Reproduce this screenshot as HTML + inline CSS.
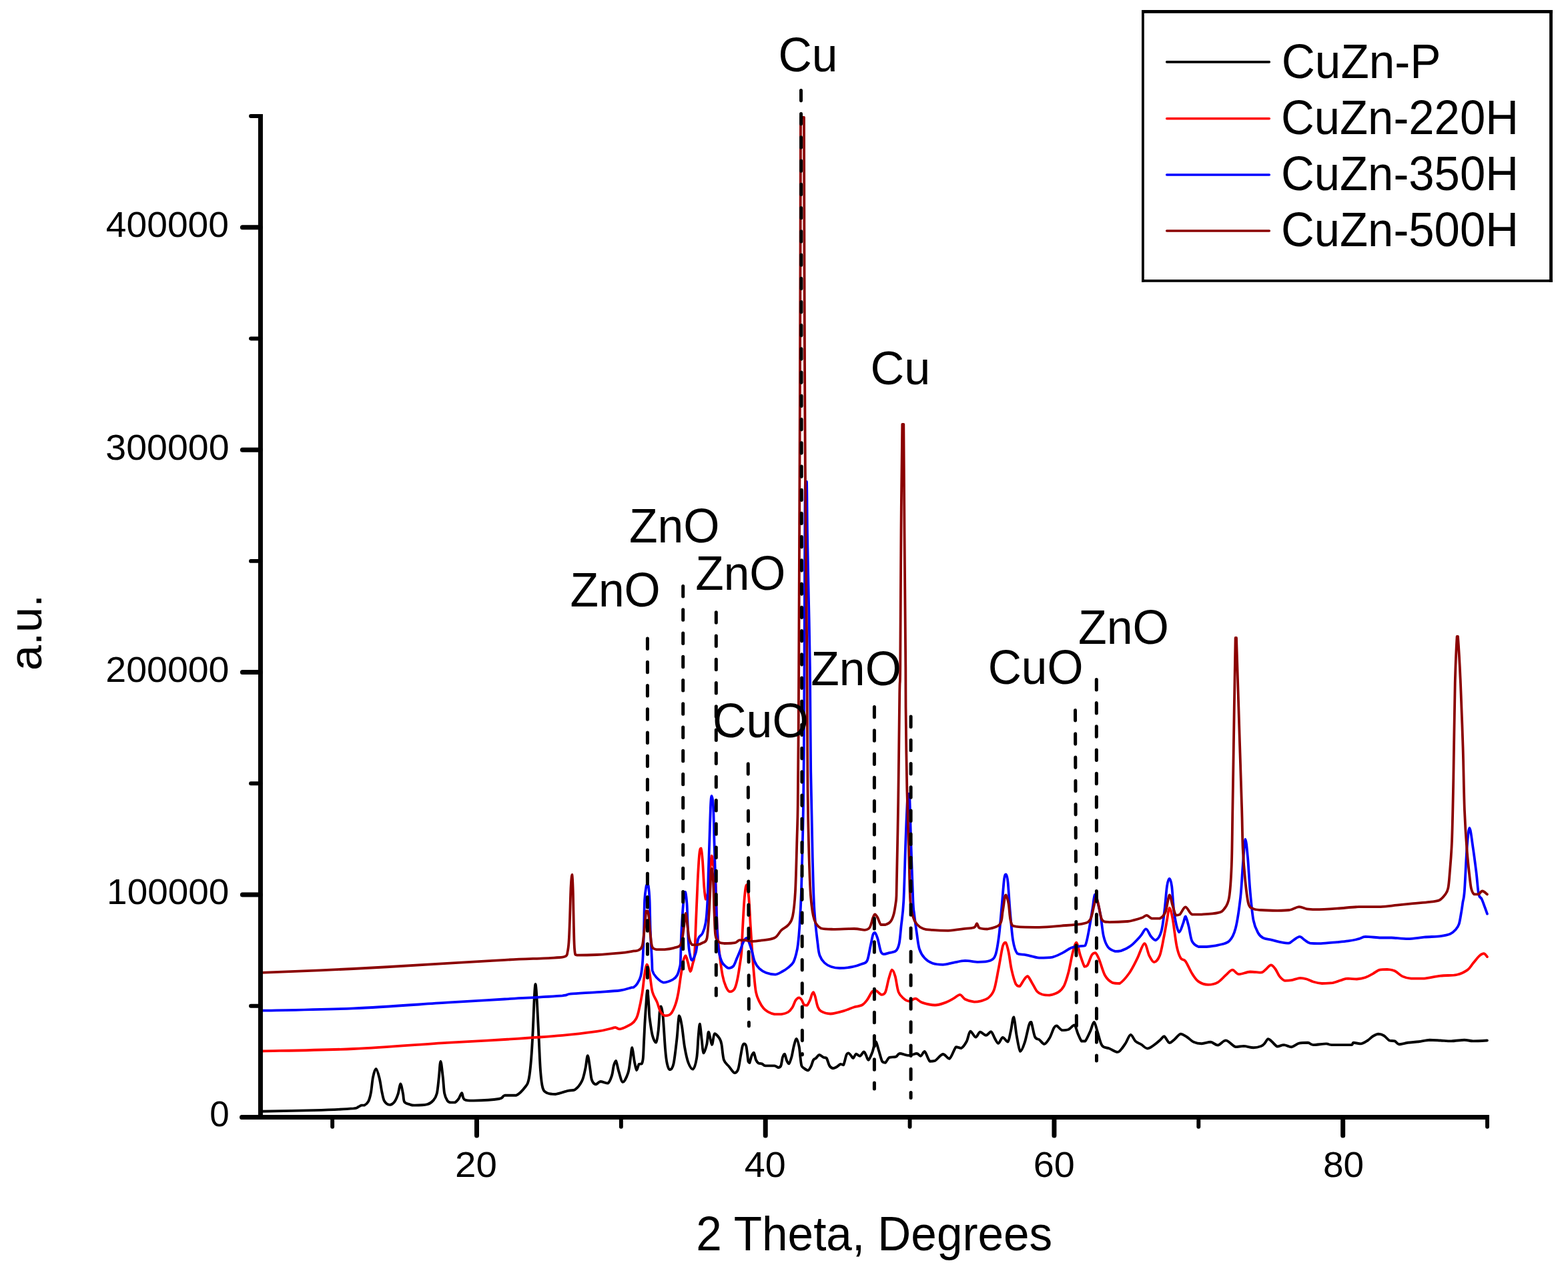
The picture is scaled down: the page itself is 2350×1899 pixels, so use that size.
<!DOCTYPE html>
<html><head><meta charset="utf-8"><title>XRD patterns of CuZn samples</title><style>html,body{margin:0;padding:0;background:#fff;width:2350px;height:1899px;overflow:hidden}</style></head><body>
<svg width="2350" height="1899" viewBox="0 0 2350 1899" style="display:block">
<rect width="100%" height="100%" fill="#fff"/>
<path d="M391.5 1665.8C404.6 1665.5 446.8 1664.8 469.9 1664.1C492.9 1663.4 518.6 1662.3 529.8 1661.4C537.3 1660.5 535.3 1659.7 537.3 1658.9C539.3 1658.1 540.2 1657.0 541.7 1656.6C543.2 1656.6 544.5 1656.6 546.2 1656.6C548.0 1655.6 550.6 1653.8 552.2 1650.6C553.8 1647.4 554.9 1643.2 556.0 1637.2C557.1 1631.2 557.8 1620.6 559.0 1614.7C560.2 1608.8 561.9 1602.0 563.5 1602.0C565.1 1602.2 567.2 1610.3 568.7 1616.2C570.2 1622.1 571.2 1631.5 572.5 1637.2C573.8 1642.9 574.3 1647.5 576.2 1650.6C578.1 1653.7 581.2 1655.8 583.7 1655.9C586.2 1655.9 589.1 1654.0 591.2 1651.4C593.3 1648.8 594.9 1644.7 596.4 1640.2C597.9 1635.7 599.0 1624.7 600.2 1624.4C601.5 1624.4 602.9 1634.2 603.9 1638.7C604.9 1643.2 604.5 1648.7 606.1 1651.4C607.7 1654.1 611.1 1654.2 613.6 1655.1C616.1 1656.0 616.6 1656.6 621.1 1656.6C625.6 1656.6 635.9 1656.3 640.6 1655.1C645.4 1653.8 647.2 1651.8 649.6 1649.1C652.0 1646.4 653.4 1644.4 654.8 1638.7C656.2 1633.0 656.9 1622.7 657.8 1614.7C658.7 1606.7 659.4 1590.7 660.4 1590.7C661.4 1590.7 662.8 1606.7 663.8 1614.7C664.8 1622.7 665.0 1632.8 666.1 1638.7C667.2 1644.6 669.1 1647.6 670.6 1649.9C672.1 1652.2 673.1 1652.0 675.0 1652.4C676.9 1652.4 680.1 1652.4 682.1 1652.2C684.1 1651.3 685.6 1649.3 687.3 1647.0C689.0 1644.7 690.7 1638.3 692.1 1638.3C693.5 1638.4 693.0 1645.9 695.9 1647.8C698.8 1649.6 701.1 1649.6 709.7 1649.6C718.4 1649.5 740.0 1648.3 747.8 1647.0C755.6 1645.7 752.1 1642.7 756.4 1641.8C760.7 1641.8 768.5 1641.8 773.7 1641.8C778.9 1639.6 784.3 1633.0 787.5 1628.8C790.7 1624.6 791.3 1623.6 792.7 1616.7C794.1 1609.8 795.1 1599.5 796.1 1587.4C797.1 1575.3 798.0 1558.6 798.7 1544.2C799.4 1529.8 799.9 1512.5 800.5 1501.0C801.1 1489.5 801.8 1475.0 802.5 1475.0C803.2 1475.0 804.0 1488.0 804.8 1501.0C805.6 1514.0 806.5 1535.5 807.4 1552.8C808.3 1570.1 809.0 1591.6 810.0 1604.6C811.0 1617.6 811.7 1625.0 813.4 1630.6C815.1 1636.2 817.1 1636.7 820.3 1638.3C823.5 1639.9 827.2 1640.0 832.4 1640.0C837.6 1639.4 846.5 1636.0 851.4 1634.9C856.3 1633.8 858.3 1634.9 861.8 1633.2C865.3 1630.8 869.6 1625.5 872.2 1620.2C874.8 1614.9 876.0 1607.5 877.4 1601.2C878.8 1594.9 879.6 1582.2 880.8 1582.2C881.9 1582.2 883.3 1595.2 884.3 1601.2C885.3 1607.2 885.5 1614.5 886.9 1618.5C888.3 1622.5 890.8 1625.0 892.9 1625.4C895.0 1625.4 896.8 1621.3 899.8 1621.0C902.8 1621.0 908.2 1623.6 911.1 1623.6C914.0 1622.0 915.7 1615.9 917.1 1611.6C918.5 1607.3 918.7 1601.3 919.7 1597.7C920.7 1594.1 921.8 1590.0 923.1 1590.0C924.4 1591.5 925.8 1601.1 927.5 1606.4C929.2 1611.7 931.2 1621.6 933.5 1621.9C935.8 1621.9 939.4 1613.8 941.3 1608.1C943.2 1602.3 943.8 1593.7 944.8 1587.4C945.8 1581.1 946.4 1570.1 947.4 1570.1C948.4 1570.7 949.7 1585.1 950.8 1590.8C951.9 1596.5 953.0 1603.3 954.1 1604.0C955.2 1604.0 956.3 1596.6 957.6 1595.0C958.9 1594.3 960.8 1595.0 961.8 1594.3C962.8 1592.8 963.2 1592.0 963.8 1586.0C964.4 1580.0 964.7 1567.5 965.2 1558.3C965.7 1549.1 966.1 1538.6 966.6 1530.6C967.1 1522.5 967.4 1517.6 968.0 1510.0C968.6 1502.4 969.4 1485.0 970.2 1485.0C971.0 1485.0 972.1 1503.3 972.6 1510.0C973.1 1516.7 972.6 1518.1 973.5 1525.0C974.4 1531.9 976.1 1545.2 977.7 1551.4C979.3 1557.7 981.7 1562.5 983.2 1562.5C984.7 1561.3 985.8 1552.1 986.7 1544.5C987.6 1536.9 988.1 1522.8 988.7 1516.8C989.4 1510.8 989.8 1508.5 990.6 1508.5C991.4 1509.7 992.5 1513.1 993.6 1523.7C994.7 1534.3 996.0 1560.3 997.0 1572.1C998.0 1583.9 998.6 1589.1 999.8 1594.3C1000.9 1599.5 1002.3 1603.3 1003.9 1603.3C1005.5 1603.3 1007.8 1601.8 1009.5 1594.3C1011.2 1586.8 1012.9 1570.3 1014.3 1558.3C1015.7 1546.3 1016.5 1525.9 1017.8 1522.4C1019.1 1522.4 1020.5 1529.8 1021.9 1537.6C1023.3 1545.4 1024.5 1560.2 1026.1 1569.4C1027.7 1578.6 1029.5 1587.4 1031.6 1592.9C1033.7 1598.4 1036.4 1602.6 1038.5 1602.6C1040.6 1601.4 1042.7 1594.5 1044.1 1586.0C1045.5 1577.5 1046.0 1559.9 1046.8 1551.4C1047.6 1542.9 1048.1 1534.8 1048.9 1534.8C1049.7 1535.9 1050.8 1551.0 1051.7 1558.3C1052.6 1565.6 1053.1 1577.2 1054.4 1578.4C1055.7 1578.4 1058.0 1570.5 1059.3 1565.2C1060.6 1559.9 1060.7 1546.6 1062.0 1546.6C1063.3 1546.7 1065.4 1565.5 1066.9 1565.9C1068.4 1565.9 1069.0 1550.8 1071.0 1549.3C1073.0 1549.3 1076.9 1554.2 1078.6 1556.9C1080.3 1559.6 1080.4 1559.9 1081.4 1565.2C1082.5 1570.5 1083.1 1583.2 1084.9 1588.7C1086.8 1594.2 1089.8 1595.2 1092.5 1598.4C1095.2 1601.6 1098.5 1607.4 1100.8 1608.1C1103.1 1608.1 1104.8 1606.8 1106.3 1602.5C1107.8 1598.2 1109.0 1587.9 1110.1 1582.2C1111.2 1576.5 1111.8 1571.2 1112.7 1568.3C1113.6 1565.3 1114.2 1564.5 1115.2 1564.5C1116.2 1564.5 1117.4 1564.5 1118.4 1568.3C1119.5 1572.7 1120.7 1587.0 1121.5 1591.1C1122.3 1593.0 1122.6 1593.0 1123.4 1593.0C1124.2 1591.5 1125.5 1584.7 1126.6 1582.2C1127.7 1579.7 1128.7 1577.8 1129.8 1577.8C1130.9 1578.9 1131.8 1586.0 1133.0 1588.6C1134.2 1591.2 1135.3 1592.6 1136.8 1593.6C1138.3 1594.3 1140.1 1593.7 1141.8 1594.3C1143.5 1594.9 1143.7 1596.9 1146.9 1597.4C1150.1 1597.4 1157.5 1597.4 1160.8 1597.4C1164.1 1597.8 1164.9 1600.0 1166.5 1600.0C1168.1 1600.0 1169.2 1599.9 1170.3 1597.4C1171.4 1594.9 1172.0 1587.8 1172.9 1584.8C1173.9 1581.8 1175.0 1579.7 1176.0 1579.7C1177.0 1580.5 1178.1 1587.4 1179.2 1589.8C1180.3 1592.2 1181.2 1594.3 1182.4 1594.3C1183.6 1593.5 1184.9 1589.3 1186.2 1584.8C1187.5 1580.2 1188.7 1571.7 1190.0 1567.0C1191.3 1562.3 1192.5 1556.9 1193.8 1556.9C1195.1 1557.1 1196.6 1563.7 1197.6 1568.3C1198.5 1572.9 1198.9 1579.9 1199.5 1584.8C1200.1 1589.7 1200.5 1594.7 1201.4 1597.4C1202.4 1600.1 1203.6 1600.0 1205.2 1601.2C1206.8 1602.4 1209.2 1604.4 1210.9 1604.4C1212.6 1604.0 1213.9 1601.3 1215.3 1598.7C1216.7 1596.1 1217.8 1590.7 1219.1 1588.6C1220.4 1586.5 1221.4 1587.3 1222.9 1586.0C1224.4 1584.7 1226.1 1581.2 1228.0 1581.0C1229.9 1581.0 1232.5 1584.0 1234.3 1584.8C1236.1 1585.6 1237.3 1584.8 1238.8 1586.0C1240.3 1588.1 1241.6 1594.9 1243.2 1597.4C1244.8 1599.9 1246.4 1601.0 1248.3 1601.2C1250.2 1601.2 1252.7 1599.8 1254.6 1598.7C1256.5 1597.7 1258.1 1595.3 1259.7 1594.9C1261.3 1594.9 1262.6 1596.2 1264.1 1596.2C1265.6 1593.9 1267.3 1584.0 1268.6 1581.0C1269.9 1578.4 1270.5 1578.4 1271.7 1578.4C1272.9 1578.6 1274.3 1580.9 1275.5 1582.2C1276.7 1583.5 1277.4 1586.0 1278.7 1586.0C1280.0 1585.6 1281.4 1580.2 1283.1 1579.7C1284.8 1579.7 1286.9 1582.9 1288.8 1582.9C1290.7 1582.4 1293.1 1576.8 1294.6 1576.5C1296.1 1576.5 1296.5 1579.0 1297.7 1581.0C1298.9 1583.0 1299.9 1588.8 1301.5 1588.8C1303.1 1588.1 1305.6 1581.6 1307.4 1577.0C1309.2 1572.4 1310.7 1561.6 1312.3 1561.3C1313.9 1561.3 1315.6 1570.2 1317.2 1575.1C1318.8 1580.0 1320.5 1587.8 1322.1 1590.7C1323.7 1592.7 1325.2 1592.7 1327.0 1592.7C1328.8 1591.7 1330.3 1586.4 1332.9 1584.9C1335.5 1583.9 1340.1 1584.9 1342.7 1583.9C1345.3 1582.9 1345.3 1579.3 1348.6 1579.0C1351.9 1579.0 1358.1 1581.9 1362.3 1581.9C1366.5 1581.9 1371.1 1579.0 1374.0 1579.0C1376.9 1579.2 1377.9 1582.9 1379.9 1582.9C1381.9 1582.4 1383.5 1576.0 1385.8 1576.0C1388.1 1577.3 1391.0 1588.4 1393.6 1590.7C1396.2 1590.7 1398.1 1590.7 1401.4 1589.8C1404.7 1588.0 1409.6 1580.5 1413.2 1580.0C1416.8 1580.0 1419.7 1586.8 1423.0 1586.8C1426.3 1585.0 1429.9 1571.8 1432.8 1569.2C1435.7 1569.2 1438.0 1571.1 1440.6 1571.1C1443.2 1569.8 1446.2 1565.5 1448.5 1561.3C1450.8 1557.1 1452.0 1546.8 1454.3 1545.7C1456.6 1545.7 1459.8 1554.3 1462.2 1554.5C1464.7 1554.5 1466.4 1547.2 1469.0 1546.7C1471.6 1546.7 1475.0 1551.8 1477.7 1551.8C1480.4 1551.7 1483.1 1546.3 1485.3 1546.3C1487.5 1547.0 1489.0 1553.2 1490.8 1556.1C1492.6 1559.0 1494.3 1563.8 1496.3 1563.8C1498.3 1563.6 1500.4 1555.4 1502.8 1555.0C1505.2 1555.0 1508.5 1561.6 1510.5 1561.6C1512.5 1560.0 1513.4 1551.4 1514.9 1545.2C1516.4 1539.0 1517.8 1524.4 1519.3 1524.4C1520.8 1525.5 1522.0 1543.2 1523.6 1551.8C1525.2 1560.4 1527.1 1574.0 1529.1 1575.8C1531.1 1575.8 1533.5 1569.3 1535.7 1562.7C1537.9 1556.1 1540.6 1541.5 1542.2 1536.4C1543.8 1532.0 1544.0 1532.0 1545.5 1532.0C1547.0 1534.9 1549.0 1549.5 1551.0 1553.9C1553.0 1558.3 1555.2 1556.5 1557.6 1558.3C1560.0 1560.1 1562.7 1564.9 1565.2 1564.9C1567.8 1564.5 1570.5 1560.1 1572.9 1556.1C1575.3 1552.1 1577.7 1543.9 1579.5 1540.8C1581.3 1537.7 1581.8 1537.5 1583.8 1537.5C1585.8 1538.0 1588.6 1543.2 1591.5 1544.1C1594.4 1544.1 1598.2 1544.1 1601.3 1543.0C1604.4 1541.7 1607.7 1536.4 1610.1 1536.4C1612.5 1537.5 1613.8 1545.6 1615.6 1549.6C1617.4 1553.6 1619.2 1558.7 1621.0 1560.5C1622.8 1560.5 1624.3 1560.5 1626.5 1560.5C1628.7 1558.0 1632.0 1550.0 1634.2 1545.2C1636.4 1540.5 1637.9 1532.0 1639.7 1532.0C1641.5 1532.4 1643.1 1541.6 1645.1 1547.4C1647.1 1553.2 1648.8 1563.1 1651.7 1567.1C1654.6 1571.1 1658.8 1569.9 1662.6 1571.5C1666.4 1573.1 1671.6 1576.8 1674.7 1576.9C1677.8 1576.9 1678.9 1574.3 1681.0 1572.0C1683.1 1569.7 1685.0 1566.5 1687.3 1563.0C1689.5 1559.5 1692.1 1551.3 1694.5 1550.9C1696.9 1550.9 1699.2 1558.2 1701.8 1560.6C1704.4 1563.0 1707.3 1563.6 1710.3 1565.4C1713.3 1567.2 1716.5 1571.5 1719.9 1571.5C1723.3 1571.5 1727.6 1567.6 1730.8 1565.4C1734.0 1563.2 1736.9 1560.2 1739.3 1558.2C1741.7 1556.2 1742.7 1553.3 1744.9 1553.3C1747.1 1554.1 1750.1 1562.2 1752.6 1563.0C1755.1 1563.0 1757.1 1560.4 1759.9 1558.2C1762.7 1556.0 1766.3 1550.3 1769.5 1549.7C1772.7 1549.7 1776.0 1552.5 1779.2 1554.5C1782.4 1556.5 1785.3 1560.2 1788.9 1561.8C1792.5 1563.4 1796.8 1564.2 1801.0 1564.2C1805.2 1564.2 1810.3 1561.8 1814.3 1561.8C1818.3 1562.2 1821.4 1566.6 1825.2 1566.6C1829.0 1566.2 1832.9 1559.4 1837.3 1559.4C1841.7 1559.8 1847.4 1567.7 1851.8 1569.1C1856.2 1569.1 1859.5 1567.9 1863.9 1567.9C1868.4 1568.1 1874.2 1570.3 1878.5 1570.3C1882.8 1570.3 1887.3 1569.0 1890.0 1568.0C1892.7 1567.0 1893.1 1566.2 1894.9 1564.4C1896.7 1562.6 1898.7 1557.6 1900.6 1557.1C1902.5 1557.1 1904.0 1559.3 1906.3 1561.2C1908.6 1563.1 1911.4 1567.7 1914.4 1568.5C1917.4 1568.5 1920.7 1566.1 1924.2 1566.1C1927.7 1566.2 1931.8 1569.3 1935.6 1569.3C1939.4 1568.9 1942.9 1564.7 1947.0 1563.6C1951.1 1562.8 1956.6 1562.8 1960.1 1562.8C1963.6 1563.2 1963.6 1565.8 1968.2 1566.1C1972.8 1566.1 1983.2 1564.4 1987.8 1564.4C1992.4 1564.4 1989.7 1565.8 1995.9 1566.1C2002.1 1566.1 2019.8 1566.1 2025.2 1566.1C2028.5 1565.5 2026.0 1563.1 2028.5 1562.8C2031.0 1562.8 2036.4 1564.4 2039.9 1564.4C2043.4 1563.9 2046.7 1561.4 2049.7 1559.5C2052.7 1557.6 2055.1 1554.6 2057.8 1553.0C2060.5 1551.4 2063.3 1549.9 2066.0 1549.8C2068.7 1549.8 2071.4 1550.6 2074.1 1552.2C2076.8 1553.8 2079.6 1558.1 2082.3 1559.5C2085.0 1560.4 2088.0 1559.5 2090.4 1560.4C2092.8 1561.4 2093.6 1564.8 2096.9 1565.2C2100.2 1565.2 2105.1 1563.5 2110.0 1562.8C2114.9 1562.1 2120.9 1561.9 2126.3 1561.2C2131.7 1560.5 2137.2 1559.0 2142.6 1558.7C2148.0 1558.7 2153.5 1559.2 2158.9 1559.5C2164.3 1559.8 2169.2 1560.4 2175.2 1560.4C2181.2 1560.3 2189.3 1558.7 2194.7 1558.7C2200.1 1558.7 2202.0 1560.3 2207.7 1560.4C2213.4 1560.4 2225.4 1559.7 2228.9 1559.5" fill="none" stroke="#000" stroke-width="3.9" stroke-linejoin="round" stroke-linecap="round"/>
<path d="M391.5 1575.5C414.6 1574.9 483.4 1574.1 529.8 1572.0C576.2 1569.9 632.2 1565.1 670.0 1562.8C707.8 1560.5 727.6 1559.8 756.4 1558.0C785.2 1556.2 819.8 1553.9 842.8 1551.9C865.8 1549.9 882.5 1547.6 894.6 1545.9C906.7 1544.2 910.8 1542.6 915.4 1541.6C920.0 1540.6 920.0 1539.8 922.3 1539.8C924.6 1539.9 925.2 1542.4 929.2 1542.4C933.2 1541.6 942.5 1537.3 946.5 1534.7C950.5 1532.1 951.7 1529.9 953.4 1526.9C955.1 1523.9 955.4 1523.1 956.9 1516.8C958.4 1510.5 960.9 1498.4 962.4 1489.2C963.9 1480.0 964.7 1468.8 965.9 1461.5C967.1 1454.2 968.1 1446.1 969.4 1445.6C970.7 1445.6 972.1 1451.9 973.5 1458.7C974.9 1465.5 975.9 1479.2 977.7 1486.4C979.6 1493.6 982.5 1496.5 984.6 1501.6C986.7 1506.7 988.0 1513.3 990.1 1516.8C992.2 1520.3 994.5 1521.9 997.0 1522.4C999.5 1522.4 1002.8 1522.4 1005.3 1519.6C1007.8 1516.8 1010.4 1510.9 1012.2 1505.8C1014.1 1500.7 1015.0 1496.6 1016.4 1489.2C1017.8 1481.8 1019.2 1469.6 1020.5 1461.5C1021.8 1453.4 1022.8 1445.5 1024.0 1440.7C1025.2 1435.9 1026.3 1432.4 1027.5 1432.4C1028.7 1432.6 1029.7 1438.2 1030.9 1442.1C1032.1 1446.0 1033.3 1455.8 1034.6 1456.0C1035.9 1456.0 1037.4 1447.8 1038.5 1443.5C1039.6 1439.2 1040.2 1441.0 1041.0 1430.0C1041.8 1419.0 1042.4 1395.8 1043.2 1377.7C1044.0 1359.6 1044.8 1337.4 1045.6 1321.3C1046.4 1305.2 1047.3 1289.3 1048.1 1281.0C1048.9 1272.7 1049.7 1271.3 1050.5 1271.3C1051.3 1272.6 1052.1 1279.3 1052.9 1289.0C1053.7 1298.7 1054.5 1319.6 1055.3 1329.4C1056.1 1339.2 1056.8 1346.6 1057.7 1347.9C1058.7 1347.9 1059.9 1344.5 1061.0 1337.4C1062.1 1330.3 1063.3 1314.3 1064.2 1305.2C1065.1 1296.1 1065.8 1283.9 1066.6 1282.6C1067.4 1282.6 1068.2 1293.3 1069.0 1297.1C1069.8 1300.9 1070.8 1298.5 1071.5 1305.2C1072.2 1311.9 1072.6 1324.0 1073.1 1337.4C1073.6 1350.8 1074.0 1372.3 1074.7 1385.8C1075.4 1399.2 1075.8 1405.5 1077.1 1418.1C1078.4 1430.7 1080.9 1451.3 1082.8 1461.5C1084.7 1471.7 1086.5 1475.3 1088.3 1479.5C1090.1 1483.7 1091.7 1486.0 1093.8 1486.4C1095.9 1486.4 1098.9 1485.2 1100.8 1482.2C1102.7 1479.2 1103.8 1474.4 1105.1 1468.2C1106.4 1462.0 1107.9 1452.3 1108.9 1445.3C1110.0 1438.3 1110.8 1433.8 1111.4 1426.3C1112.0 1418.8 1111.9 1413.5 1112.6 1400.0C1113.3 1386.5 1114.7 1357.8 1115.8 1345.5C1116.9 1333.2 1117.9 1326.1 1119.0 1326.1C1120.1 1326.1 1121.3 1335.5 1122.3 1345.5C1123.2 1355.5 1123.8 1371.0 1124.7 1385.8C1125.6 1400.6 1127.1 1422.2 1127.9 1434.2C1128.8 1446.2 1129.0 1449.2 1129.8 1458.0C1130.6 1466.8 1131.6 1480.0 1133.0 1487.2C1134.4 1494.4 1136.1 1497.1 1138.0 1501.1C1139.9 1505.1 1142.3 1508.8 1144.4 1511.3C1146.5 1513.8 1148.0 1514.8 1150.7 1516.3C1153.4 1517.8 1157.4 1519.5 1160.8 1520.1C1164.2 1520.1 1167.6 1520.1 1171.0 1520.1C1174.4 1519.6 1178.3 1518.7 1181.1 1517.0C1183.8 1515.3 1185.6 1513.0 1187.5 1510.0C1189.4 1507.0 1190.8 1501.6 1192.5 1499.2C1194.2 1496.8 1196.1 1495.5 1197.6 1495.4C1199.1 1495.4 1200.1 1496.8 1201.4 1498.6C1202.7 1500.4 1203.8 1504.8 1205.2 1506.2C1206.6 1506.8 1208.1 1506.8 1209.6 1506.8C1211.1 1505.5 1212.9 1501.2 1214.1 1498.6C1215.3 1496.0 1215.8 1492.9 1216.6 1491.0C1217.4 1489.1 1218.2 1487.2 1219.1 1487.2C1219.9 1487.6 1220.6 1489.9 1221.7 1493.5C1222.8 1497.1 1224.0 1505.0 1225.5 1508.7C1227.0 1512.4 1227.3 1513.9 1230.5 1515.7C1233.7 1517.5 1238.8 1519.5 1244.5 1519.5C1250.2 1519.4 1258.9 1516.8 1264.8 1515.1C1270.7 1513.4 1275.5 1510.9 1280.0 1509.5C1284.5 1508.1 1288.5 1508.3 1291.8 1506.5C1295.1 1504.7 1297.0 1502.1 1299.6 1498.7C1302.2 1495.3 1305.1 1488.2 1307.4 1485.9C1309.7 1485.0 1311.0 1485.0 1313.3 1485.0C1315.6 1485.8 1318.8 1490.5 1321.1 1490.8C1323.4 1490.8 1325.2 1490.8 1327.0 1486.9C1328.8 1483.0 1330.3 1472.8 1331.9 1467.3C1333.5 1461.8 1335.2 1454.2 1336.8 1453.6C1338.4 1453.6 1340.1 1457.9 1341.7 1463.4C1343.3 1469.0 1344.5 1481.4 1346.6 1486.9C1348.7 1492.5 1351.8 1494.4 1354.4 1496.7C1357.0 1499.0 1359.3 1500.6 1362.3 1500.6C1365.2 1500.6 1368.8 1496.7 1372.1 1496.7C1375.4 1497.0 1377.0 1501.0 1381.9 1502.6C1386.8 1504.2 1395.5 1506.5 1401.4 1506.5C1407.3 1506.5 1412.5 1504.2 1417.1 1502.6C1421.7 1501.0 1425.3 1498.7 1428.9 1496.7C1432.5 1494.7 1435.8 1490.8 1438.7 1490.8C1441.6 1491.0 1442.9 1495.9 1446.5 1497.7C1450.1 1499.5 1456.3 1501.2 1460.2 1501.6C1464.1 1501.6 1466.5 1501.2 1470.0 1500.3C1473.5 1499.3 1477.6 1498.6 1480.9 1495.9C1484.2 1493.2 1487.1 1491.0 1489.7 1483.9C1492.3 1476.8 1494.1 1464.2 1496.3 1453.2C1498.5 1442.2 1501.0 1425.0 1502.8 1418.2C1504.6 1412.7 1505.7 1412.7 1507.2 1412.7C1508.7 1414.2 1510.1 1420.2 1511.6 1427.0C1513.1 1433.8 1514.2 1445.2 1516.0 1453.2C1517.8 1461.2 1520.5 1470.9 1522.5 1475.1C1524.5 1478.4 1526.0 1478.4 1528.0 1478.4C1530.0 1477.3 1532.6 1471.1 1534.6 1468.6C1536.6 1466.0 1538.1 1463.1 1540.1 1463.1C1542.1 1463.8 1544.2 1469.1 1546.6 1472.9C1549.0 1476.7 1551.8 1483.2 1554.3 1486.1C1556.8 1489.0 1558.8 1489.6 1561.9 1490.5C1565.0 1491.4 1568.9 1491.6 1572.9 1491.6C1576.9 1491.0 1582.3 1489.6 1586.0 1487.2C1589.7 1484.8 1592.2 1482.2 1594.8 1477.3C1597.3 1472.4 1599.1 1466.0 1601.3 1457.6C1603.5 1449.2 1605.9 1434.5 1607.9 1427.0C1609.9 1419.5 1611.6 1412.7 1613.4 1412.7C1615.2 1413.4 1616.9 1425.3 1618.9 1431.3C1620.9 1437.3 1623.6 1446.3 1625.4 1448.9C1627.2 1448.9 1628.0 1448.9 1629.8 1446.7C1631.6 1443.8 1634.4 1434.4 1636.4 1431.3C1638.4 1428.2 1640.0 1428.1 1641.8 1428.1C1643.6 1429.2 1644.9 1432.2 1647.3 1437.9C1649.7 1443.6 1652.8 1456.2 1656.1 1462.0C1659.4 1467.8 1663.3 1470.9 1667.0 1472.9C1670.7 1474.0 1673.8 1474.0 1678.0 1474.0C1682.2 1471.7 1687.7 1465.1 1692.1 1459.0C1696.5 1452.9 1700.4 1444.7 1704.2 1437.2C1708.0 1429.7 1712.1 1415.0 1715.1 1414.2C1718.1 1414.2 1720.0 1427.7 1722.4 1432.3C1724.8 1436.9 1727.0 1442.0 1729.6 1442.0C1732.2 1442.0 1735.7 1438.3 1738.1 1432.3C1740.5 1426.2 1742.3 1414.6 1744.1 1405.7C1745.9 1396.8 1747.6 1386.6 1749.0 1379.1C1750.4 1371.6 1751.2 1361.3 1752.6 1360.9C1754.0 1360.9 1755.6 1367.2 1757.4 1376.7C1759.2 1386.2 1761.5 1407.9 1763.5 1417.8C1765.5 1427.7 1767.3 1432.2 1769.5 1436.0C1771.7 1439.8 1774.0 1437.0 1776.8 1440.8C1779.6 1444.6 1783.3 1454.0 1786.5 1459.0C1789.7 1464.0 1792.2 1468.3 1796.2 1471.1C1800.2 1473.9 1805.9 1475.7 1810.7 1475.9C1815.5 1475.9 1820.8 1474.7 1825.2 1472.3C1829.6 1469.9 1833.7 1464.5 1837.3 1461.4C1840.9 1458.3 1843.8 1453.8 1847.0 1453.6C1850.2 1453.6 1852.3 1459.7 1856.7 1460.2C1861.1 1460.2 1868.0 1456.9 1873.6 1456.5C1879.1 1456.5 1886.2 1457.7 1890.0 1457.7C1893.8 1457.2 1894.0 1455.5 1896.5 1453.6C1899.0 1451.7 1902.2 1446.6 1904.7 1446.3C1907.2 1446.3 1909.0 1449.2 1911.2 1452.0C1913.4 1454.8 1915.3 1460.4 1917.7 1463.4C1920.1 1466.4 1922.8 1469.0 1925.8 1469.9C1928.8 1469.9 1931.8 1469.8 1935.6 1469.1C1939.4 1468.4 1944.9 1466.1 1948.7 1465.8C1952.5 1465.8 1955.2 1466.5 1958.4 1467.5C1961.7 1468.5 1964.4 1470.4 1968.2 1471.5C1972.0 1472.6 1976.4 1473.7 1981.3 1474.0C1986.2 1474.0 1992.3 1474.0 1997.5 1473.2C2002.7 1472.2 2008.4 1469.4 2012.2 1468.3C2016.0 1467.2 2016.9 1466.8 2020.4 1466.7C2023.9 1466.7 2029.1 1467.5 2033.4 1467.5C2037.7 1467.2 2042.3 1466.4 2046.4 1465.0C2050.5 1463.6 2054.3 1461.2 2057.8 1459.3C2061.3 1457.4 2064.1 1454.7 2067.6 1453.6C2071.1 1452.8 2075.2 1452.8 2079.0 1452.8C2082.8 1453.1 2086.6 1453.4 2090.4 1455.2C2094.2 1457.0 2097.7 1461.5 2101.8 1463.4C2105.9 1465.3 2109.5 1466.2 2114.9 1466.7C2120.3 1466.7 2127.1 1466.7 2134.4 1466.7C2141.7 1466.0 2150.8 1463.5 2158.9 1462.6C2167.1 1461.6 2176.5 1462.5 2183.3 1461.0C2190.1 1459.5 2195.5 1456.5 2199.6 1453.6C2203.7 1450.7 2204.7 1447.3 2207.7 1443.8C2210.7 1440.3 2214.8 1434.8 2217.5 1432.4C2220.2 1430.0 2222.1 1429.2 2224.0 1429.2C2225.9 1429.5 2228.1 1433.3 2228.9 1434.1" fill="none" stroke="#f00" stroke-width="3.8" stroke-linejoin="round" stroke-linecap="round"/>
<path d="M391.5 1514.7C414.6 1514.2 483.4 1513.4 529.8 1511.4C576.2 1509.4 632.2 1505.0 670.0 1502.7C707.8 1500.4 727.6 1499.2 756.4 1497.5C785.2 1495.8 826.4 1493.6 842.8 1492.3C854.9 1491.0 846.3 1490.6 854.9 1489.7C863.5 1488.8 882.2 1488.0 894.6 1487.1C907.0 1486.2 920.6 1485.7 929.2 1484.5C937.9 1483.3 943.0 1481.0 946.5 1480.2C950.0 1479.5 948.6 1480.2 950.0 1479.5C951.4 1478.5 953.4 1477.0 955.1 1474.2C956.8 1471.4 958.9 1468.6 960.3 1462.9C961.6 1457.2 962.4 1451.2 963.2 1440.0C964.0 1428.8 964.5 1410.6 965.0 1395.5C965.5 1380.4 965.5 1360.7 966.1 1349.4C966.7 1338.2 967.9 1332.0 968.6 1328.0C969.3 1325.5 969.7 1325.5 970.2 1325.5C970.7 1325.5 971.2 1325.5 971.8 1328.0C972.4 1332.0 973.1 1338.2 973.6 1349.4C974.1 1360.7 974.2 1380.4 974.8 1395.5C975.4 1410.6 976.6 1430.2 977.1 1440.0C977.6 1449.8 977.1 1450.5 977.7 1454.6C978.7 1458.6 980.4 1461.3 983.2 1464.3C986.0 1467.3 990.1 1471.9 994.3 1472.6C998.4 1472.6 1004.6 1470.2 1008.1 1468.4C1011.6 1466.6 1013.1 1465.0 1015.0 1461.5C1016.9 1458.0 1018.4 1451.3 1019.2 1447.7C1019.9 1444.1 1019.5 1447.7 1019.9 1440.0C1020.3 1431.3 1020.6 1410.5 1021.4 1395.5C1022.2 1380.5 1023.5 1359.8 1024.5 1350.0C1025.5 1340.2 1026.4 1337.0 1027.2 1337.0C1028.0 1337.9 1028.9 1347.4 1029.5 1355.2C1030.1 1363.0 1030.2 1374.3 1030.6 1383.9C1031.0 1393.5 1031.3 1405.4 1031.8 1412.7C1032.3 1420.0 1032.6 1423.5 1033.5 1428.0C1034.4 1432.5 1035.6 1439.4 1037.1 1439.4C1038.6 1439.4 1041.1 1433.7 1042.7 1428.3C1044.3 1422.9 1044.8 1411.7 1046.5 1406.8C1048.2 1401.9 1051.0 1402.7 1052.9 1398.7C1054.8 1394.7 1056.5 1390.1 1057.7 1382.6C1058.9 1375.1 1059.5 1366.4 1060.2 1353.5C1060.9 1340.6 1061.3 1321.3 1061.8 1305.2C1062.3 1289.1 1062.9 1272.9 1063.4 1256.8C1063.9 1240.7 1064.5 1219.0 1065.0 1208.4C1065.5 1197.8 1065.9 1193.0 1066.6 1193.0C1067.3 1193.0 1068.3 1196.4 1069.0 1208.4C1069.7 1220.4 1070.0 1246.0 1070.6 1264.8C1071.1 1283.6 1071.8 1303.8 1072.3 1321.3C1072.8 1338.8 1073.2 1353.6 1073.9 1369.7C1074.6 1385.8 1075.0 1406.3 1076.3 1418.1C1077.5 1429.9 1079.4 1435.5 1081.4 1440.7C1083.4 1445.9 1086.5 1447.3 1088.3 1449.0C1090.1 1450.7 1090.7 1451.1 1092.5 1451.1C1094.3 1450.9 1097.4 1450.2 1099.4 1447.7C1101.4 1445.2 1102.8 1439.9 1104.5 1436.0C1106.2 1432.1 1107.8 1428.6 1109.4 1424.5C1111.0 1420.4 1112.6 1414.7 1114.2 1411.6C1115.8 1408.5 1117.7 1406.0 1119.0 1406.0C1120.3 1406.0 1121.0 1408.2 1122.3 1411.6C1123.6 1414.9 1125.6 1421.2 1127.1 1426.1C1128.5 1431.0 1129.2 1436.7 1131.0 1441.0C1132.8 1445.3 1135.1 1448.9 1138.0 1451.7C1140.9 1454.5 1144.2 1456.5 1148.2 1458.0C1152.2 1459.5 1157.9 1460.6 1162.1 1460.6C1166.3 1460.2 1170.3 1457.2 1173.5 1455.5C1176.7 1453.8 1178.6 1452.5 1181.1 1450.4C1183.6 1448.3 1186.7 1446.2 1188.7 1442.8C1190.7 1439.4 1192.0 1434.6 1193.2 1430.0C1194.4 1425.4 1195.2 1421.8 1196.0 1415.0C1196.8 1408.2 1197.5 1401.9 1198.3 1388.9C1199.1 1375.9 1200.0 1362.9 1200.9 1337.0C1201.8 1311.1 1202.8 1267.9 1203.5 1233.3C1204.2 1198.7 1204.5 1168.5 1204.8 1129.6C1205.1 1090.7 1205.2 1054.9 1205.5 1000.0C1205.8 945.1 1206.0 846.3 1206.3 800.0C1206.5 753.7 1206.5 735.0 1207.0 722.0C1207.5 722.0 1208.5 722.0 1209.0 722.0C1209.5 735.0 1209.5 770.3 1210.0 800.0C1210.5 829.7 1211.3 866.7 1212.0 900.0C1212.7 933.3 1213.4 957.4 1213.9 1000.0C1214.4 1042.6 1214.6 1108.1 1215.2 1155.6C1215.8 1203.1 1216.9 1250.6 1217.8 1285.2C1218.7 1319.8 1219.1 1341.4 1220.4 1363.0C1221.7 1384.6 1224.2 1403.3 1225.6 1414.8C1226.9 1426.3 1226.8 1427.3 1228.5 1432.0C1230.2 1436.7 1232.7 1440.2 1235.6 1443.0C1238.5 1445.8 1242.0 1447.7 1245.8 1449.0C1249.6 1450.3 1253.1 1451.0 1258.4 1451.0C1263.7 1451.0 1271.8 1450.2 1277.4 1449.2C1283.0 1448.2 1288.1 1446.3 1291.8 1444.8C1295.5 1443.2 1297.5 1444.3 1299.6 1439.9C1301.7 1435.5 1303.0 1424.9 1304.5 1418.4C1306.0 1411.9 1307.3 1404.1 1308.4 1400.7C1309.5 1397.8 1310.2 1397.8 1311.3 1397.8C1312.4 1398.8 1313.8 1401.9 1315.3 1406.6C1316.8 1411.3 1318.6 1422.3 1320.2 1426.2C1321.8 1430.1 1323.0 1429.8 1325.1 1430.1C1327.2 1430.1 1330.0 1428.9 1332.9 1428.1C1335.8 1427.3 1340.2 1427.5 1342.7 1425.2C1345.2 1422.9 1346.3 1420.4 1347.6 1414.4C1348.9 1408.4 1349.4 1399.7 1350.5 1389.0C1351.6 1378.3 1353.2 1371.2 1354.3 1350.0C1355.4 1328.8 1356.3 1288.7 1357.3 1262.0C1358.3 1235.3 1359.5 1202.0 1360.5 1190.0C1361.5 1190.0 1362.2 1190.0 1363.0 1190.0C1363.8 1202.0 1364.4 1235.3 1365.3 1262.0C1366.2 1288.7 1367.6 1332.1 1368.4 1350.0C1369.2 1367.9 1369.2 1361.3 1370.1 1369.4C1371.0 1377.5 1372.7 1390.0 1374.0 1398.8C1375.3 1407.6 1375.9 1416.1 1377.9 1422.3C1379.9 1428.5 1382.5 1432.4 1385.8 1436.0C1389.1 1439.6 1392.9 1442.2 1397.5 1443.8C1402.1 1445.4 1408.0 1445.8 1413.2 1445.8C1418.4 1445.6 1423.4 1443.8 1428.9 1442.8C1434.5 1441.8 1440.3 1440.1 1446.5 1439.9C1452.7 1439.9 1460.0 1441.9 1466.1 1441.9C1472.2 1441.9 1478.8 1441.9 1483.1 1440.1C1487.4 1438.3 1489.5 1437.9 1491.9 1431.3C1494.3 1424.7 1495.8 1413.5 1497.4 1400.7C1499.0 1387.9 1500.4 1368.6 1501.7 1354.7C1503.0 1340.8 1504.0 1324.9 1505.0 1317.5C1506.0 1310.5 1506.8 1310.5 1507.7 1310.5C1508.6 1311.2 1509.5 1312.7 1510.5 1321.9C1511.5 1331.1 1512.5 1351.1 1513.8 1365.7C1515.1 1380.3 1516.4 1398.9 1518.2 1409.5C1520.0 1420.1 1521.4 1425.6 1524.7 1429.2C1528.0 1431.3 1532.4 1430.2 1537.9 1431.3C1543.4 1432.4 1551.0 1435.2 1557.6 1435.7C1564.2 1435.7 1571.5 1435.7 1577.3 1434.6C1583.1 1433.3 1587.9 1430.5 1592.6 1428.1C1597.3 1425.7 1601.3 1422.1 1605.7 1420.4C1610.1 1418.8 1615.4 1418.8 1618.9 1418.2C1622.4 1417.7 1624.3 1418.2 1626.5 1417.1C1628.7 1413.1 1630.2 1403.4 1632.0 1394.1C1633.8 1384.8 1636.0 1370.1 1637.5 1361.3C1639.0 1352.5 1639.5 1342.5 1640.8 1341.0C1642.1 1341.0 1643.6 1347.3 1645.1 1352.5C1646.5 1357.7 1648.0 1363.8 1649.5 1372.2C1651.0 1380.6 1652.1 1395.1 1653.9 1402.9C1655.7 1410.8 1657.6 1415.5 1660.5 1419.3C1663.4 1423.1 1668.2 1424.9 1671.4 1425.9C1674.7 1425.9 1676.2 1425.9 1680.0 1425.1C1683.8 1423.8 1689.7 1421.4 1694.5 1417.8C1699.3 1414.2 1705.2 1407.5 1709.0 1403.3C1712.8 1399.1 1714.9 1392.4 1717.5 1392.4C1720.1 1392.4 1722.4 1400.5 1724.8 1403.3C1727.2 1406.1 1729.4 1409.3 1732.0 1409.3C1734.6 1408.1 1738.3 1403.5 1740.5 1396.0C1742.7 1388.5 1743.9 1375.9 1745.3 1364.6C1746.7 1353.3 1747.8 1336.2 1749.0 1328.3C1750.2 1320.4 1751.4 1317.0 1752.6 1317.0C1753.8 1317.0 1755.0 1319.6 1756.2 1328.3C1757.4 1337.0 1758.1 1357.9 1759.9 1369.4C1761.7 1380.9 1764.9 1394.8 1767.1 1397.2C1769.3 1397.2 1771.6 1387.9 1773.2 1383.9C1774.8 1380.0 1775.4 1373.5 1776.8 1373.5C1778.2 1374.3 1780.0 1382.6 1781.6 1388.8C1783.2 1395.0 1784.1 1405.6 1786.5 1410.6C1788.9 1415.6 1792.6 1417.6 1796.2 1419.0C1799.8 1419.0 1803.5 1419.0 1808.3 1419.0C1813.1 1418.6 1819.6 1418.0 1825.2 1416.6C1830.8 1415.2 1837.7 1414.8 1842.1 1410.6C1846.5 1406.4 1849.0 1402.1 1851.8 1391.2C1854.6 1380.3 1857.3 1360.9 1859.1 1345.2C1860.9 1329.5 1861.5 1311.3 1862.7 1296.8C1863.9 1282.3 1865.2 1260.0 1866.4 1258.0C1867.6 1258.0 1868.8 1271.8 1870.0 1284.7C1871.2 1297.6 1872.2 1319.8 1873.6 1335.5C1875.0 1351.2 1876.5 1368.6 1878.5 1379.1C1880.5 1389.6 1883.3 1394.1 1885.7 1398.5C1888.1 1402.9 1889.6 1404.0 1893.0 1405.7C1896.4 1407.4 1901.9 1407.7 1906.3 1408.8C1910.7 1409.9 1915.1 1411.3 1919.3 1412.1C1923.5 1412.9 1928.3 1413.7 1931.6 1413.7C1934.9 1413.2 1936.2 1410.4 1938.9 1408.8C1941.6 1407.2 1945.1 1403.9 1947.8 1403.9C1950.5 1403.9 1952.6 1407.2 1955.2 1408.8C1957.8 1410.4 1959.2 1412.8 1963.3 1413.7C1967.4 1414.2 1972.8 1414.2 1979.6 1414.2C1986.4 1413.9 1997.3 1412.7 2004.1 1412.1C2010.9 1411.5 2015.0 1411.2 2020.4 1410.4C2025.8 1409.6 2032.4 1408.3 2036.7 1407.2C2041.0 1406.1 2041.0 1404.2 2046.4 1403.9C2051.8 1403.9 2062.7 1405.2 2069.2 1405.5C2075.7 1405.5 2078.7 1405.5 2085.5 1405.5C2092.3 1405.8 2101.8 1407.2 2110.0 1407.2C2118.2 1407.1 2126.2 1405.4 2134.4 1404.7C2142.6 1404.0 2152.4 1403.9 2158.9 1403.1C2165.4 1402.3 2169.7 1401.4 2173.5 1399.8C2177.3 1398.2 2179.5 1395.7 2181.7 1393.3C2183.9 1390.9 2185.2 1389.3 2186.6 1385.2C2187.9 1381.1 2188.9 1374.3 2189.8 1368.9C2190.8 1363.5 2191.5 1358.2 2192.3 1352.6C2193.2 1346.9 2193.9 1348.3 2194.9 1335.0C2195.9 1321.7 2197.2 1288.2 2198.4 1272.5C2199.7 1256.8 2200.8 1241.0 2202.4 1241.0C2204.0 1241.0 2206.2 1261.3 2207.9 1272.5C2209.6 1283.7 2211.2 1296.8 2212.6 1308.0C2214.0 1319.2 2214.7 1333.4 2216.1 1340.0C2217.5 1346.6 2219.2 1344.2 2220.8 1347.7C2222.4 1351.2 2224.3 1357.0 2225.7 1360.7C2227.0 1364.4 2228.4 1368.2 2228.9 1369.7" fill="none" stroke="#00f" stroke-width="3.8" stroke-linejoin="round" stroke-linecap="round"/>
<path d="M391.5 1457.9C414.6 1456.9 483.4 1454.3 529.8 1452.0C576.2 1449.7 632.2 1446.1 670.0 1443.9C707.8 1441.7 729.7 1440.2 756.4 1438.8C783.1 1437.4 814.8 1436.5 830.0 1435.6C845.2 1434.7 844.2 1434.7 847.6 1433.2C850.6 1431.7 849.8 1430.3 850.6 1426.8C851.4 1423.3 851.9 1420.2 852.5 1412.1C853.1 1403.9 853.5 1391.8 854.0 1377.9C854.5 1364.0 855.0 1340.1 855.6 1328.9C856.2 1317.8 856.9 1311.0 857.4 1311.0C857.9 1312.6 858.5 1325.9 858.9 1338.7C859.3 1351.5 859.5 1373.3 859.9 1387.7C860.3 1402.1 860.4 1417.6 861.3 1424.9C862.2 1431.7 861.3 1430.7 865.2 1431.7C870.8 1431.7 883.9 1431.5 894.6 1431.0C905.3 1430.5 920.0 1429.3 929.2 1428.4C938.4 1427.5 945.4 1426.1 950.0 1425.4C954.6 1424.7 954.8 1425.4 956.9 1424.2C959.0 1422.8 961.2 1423.0 962.7 1417.3C964.2 1411.5 965.2 1398.3 966.1 1389.7C967.0 1381.1 967.7 1369.5 968.4 1365.5C969.1 1365.5 969.8 1365.5 970.5 1365.5C971.2 1367.0 971.8 1368.8 972.5 1374.7C973.2 1380.7 973.9 1393.7 974.8 1401.2C975.6 1408.7 976.0 1415.9 977.6 1419.6C979.2 1423.1 981.4 1422.5 984.5 1423.1C987.6 1423.1 991.9 1423.1 996.1 1423.1C1000.3 1422.7 1006.1 1421.8 1009.9 1420.8C1013.7 1419.8 1017.0 1419.6 1019.1 1417.3C1021.2 1415.0 1021.5 1411.6 1022.5 1407.0C1023.5 1402.4 1024.0 1396.0 1024.9 1389.7C1025.8 1383.4 1026.8 1369.0 1027.7 1369.0C1028.7 1369.0 1029.7 1383.4 1030.6 1389.7C1031.5 1396.0 1031.8 1402.6 1032.9 1407.0C1034.1 1411.4 1035.5 1414.7 1037.5 1416.2C1039.5 1416.2 1042.4 1416.2 1045.0 1416.2C1047.6 1415.7 1050.5 1414.8 1052.9 1413.2C1055.3 1411.6 1057.8 1413.2 1059.4 1406.8C1061.0 1399.5 1061.8 1381.3 1062.6 1369.7C1063.4 1358.1 1063.7 1348.2 1064.2 1337.4C1064.7 1326.7 1065.3 1311.1 1065.8 1305.2C1066.3 1302.0 1066.6 1302.0 1067.1 1302.0C1067.6 1304.7 1068.4 1310.0 1069.0 1321.3C1069.6 1332.6 1070.0 1356.3 1070.6 1369.7C1071.1 1383.1 1071.2 1394.9 1072.3 1401.9C1073.4 1408.9 1074.9 1409.6 1077.1 1411.6C1079.2 1413.6 1081.2 1413.7 1085.2 1414.0C1089.2 1414.0 1097.5 1414.0 1101.3 1413.2C1105.0 1412.4 1105.3 1409.9 1107.7 1409.2C1110.1 1409.2 1112.3 1409.2 1115.8 1409.2C1119.3 1409.5 1124.7 1410.7 1128.7 1410.8C1132.7 1410.8 1134.7 1410.4 1140.0 1409.6C1145.3 1408.8 1155.5 1408.4 1160.7 1405.8C1165.9 1403.2 1167.6 1397.3 1171.1 1394.1C1174.6 1390.8 1178.7 1389.8 1181.5 1386.3C1184.3 1382.8 1186.3 1381.5 1188.0 1373.3C1189.7 1365.1 1190.8 1356.0 1191.9 1337.0C1193.0 1318.0 1193.8 1280.9 1194.4 1259.3C1195.0 1237.7 1195.4 1231.2 1195.7 1207.4C1196.0 1183.6 1196.2 1151.3 1196.5 1116.7C1196.8 1082.1 1196.9 1069.5 1197.2 1000.0C1197.5 930.5 1198.1 800.0 1198.5 700.0C1198.9 600.0 1199.2 487.3 1199.5 400.0C1199.8 312.7 1199.5 213.3 1200.0 176.0C1200.9 176.0 1204.1 176.0 1205.0 176.0C1205.5 213.3 1205.2 312.7 1205.5 400.0C1205.8 487.3 1206.3 616.7 1206.8 700.0C1207.3 783.3 1208.0 850.0 1208.5 900.0C1209.0 950.0 1209.2 953.1 1209.5 1000.0C1209.8 1046.9 1210.0 1134.0 1210.5 1181.5C1211.0 1229.0 1211.8 1258.0 1212.6 1285.2C1213.4 1312.4 1213.9 1329.2 1215.2 1344.8C1216.5 1360.3 1217.8 1370.7 1220.4 1378.5C1223.0 1386.3 1226.0 1389.1 1230.7 1391.5C1235.5 1392.8 1240.7 1392.7 1248.9 1392.8C1257.1 1392.8 1272.2 1392.0 1280.0 1392.0C1287.8 1392.2 1291.8 1393.9 1295.7 1393.9C1299.6 1393.6 1301.4 1393.1 1303.5 1390.0C1305.6 1386.9 1307.1 1378.5 1308.4 1375.3C1309.7 1372.0 1310.2 1370.5 1311.3 1370.5C1312.4 1370.5 1313.8 1372.7 1315.3 1375.3C1316.8 1377.9 1318.2 1384.2 1320.2 1386.0C1322.2 1386.0 1324.6 1386.0 1327.0 1386.0C1329.4 1385.2 1332.7 1383.9 1334.8 1381.1C1336.9 1378.3 1338.4 1374.3 1339.7 1369.4C1341.0 1364.5 1342.1 1356.3 1342.7 1351.8C1343.3 1347.3 1342.9 1351.8 1343.5 1342.6C1344.1 1317.5 1345.4 1251.9 1346.2 1201.5C1347.0 1151.1 1347.7 1073.9 1348.2 1040.3C1348.7 1006.7 1348.8 1040.3 1349.2 1000.0C1349.6 959.1 1350.0 855.7 1350.5 795.0C1351.0 734.3 1351.7 662.5 1352.3 636.0C1352.9 636.0 1353.8 636.0 1354.3 636.0C1354.8 662.5 1355.0 734.3 1355.5 795.0C1356.0 855.7 1357.0 955.8 1357.3 1000.0C1357.5 1044.2 1357.3 1029.8 1357.5 1060.0C1357.8 1090.2 1358.5 1144.4 1359.3 1181.4C1360.1 1218.4 1361.5 1254.0 1362.3 1282.1C1363.1 1310.2 1363.3 1334.8 1364.3 1350.0C1365.3 1365.2 1366.5 1367.5 1368.1 1373.3C1369.7 1379.1 1371.4 1382.0 1374.0 1385.1C1376.6 1388.2 1379.9 1390.4 1383.8 1391.9C1387.7 1393.4 1391.3 1393.4 1397.5 1393.9C1403.7 1394.4 1412.8 1394.8 1421.0 1394.8C1429.2 1394.5 1440.0 1392.7 1446.5 1391.9C1453.0 1391.1 1457.3 1391.3 1460.2 1390.0C1463.1 1388.7 1462.8 1384.1 1464.1 1384.1C1465.4 1384.2 1465.3 1389.5 1468.0 1390.9C1470.7 1392.3 1474.9 1392.5 1480.0 1392.5C1485.1 1391.6 1494.7 1389.9 1498.5 1385.4C1502.3 1380.9 1501.5 1372.6 1502.8 1365.7C1504.1 1358.8 1505.3 1347.8 1506.1 1343.8C1506.9 1341.5 1506.8 1341.5 1507.7 1341.5C1508.6 1343.3 1510.4 1348.1 1511.6 1354.7C1512.8 1361.3 1513.1 1375.3 1514.9 1381.0C1516.7 1386.7 1515.4 1387.2 1522.5 1388.7C1529.6 1389.8 1546.3 1389.8 1557.6 1389.8C1568.9 1389.6 1579.5 1388.5 1590.4 1387.6C1601.3 1386.7 1615.9 1385.9 1623.2 1384.3C1630.5 1382.7 1631.5 1382.2 1634.2 1377.7C1637.0 1373.2 1638.2 1362.5 1639.7 1357.0C1641.2 1351.5 1641.8 1344.5 1642.9 1344.5C1644.0 1344.5 1645.0 1351.3 1646.5 1357.0C1648.0 1362.7 1649.0 1374.6 1651.7 1378.8C1654.4 1382.1 1656.2 1381.7 1662.6 1382.1C1669.0 1382.1 1683.9 1381.5 1690.0 1381.0C1696.1 1380.5 1695.8 1380.0 1699.4 1379.1C1703.0 1378.2 1708.3 1376.7 1711.5 1375.5C1714.7 1374.3 1716.3 1371.8 1718.7 1371.8C1721.1 1372.0 1722.8 1375.9 1726.0 1376.7C1729.2 1376.7 1734.7 1376.7 1738.1 1376.7C1741.5 1375.1 1744.2 1372.9 1746.6 1367.0C1749.0 1361.1 1750.8 1343.1 1752.6 1341.5C1754.4 1341.5 1755.8 1352.2 1757.4 1357.3C1759.0 1362.3 1760.5 1369.6 1762.3 1371.8C1764.1 1371.8 1765.9 1371.8 1768.3 1370.6C1770.7 1368.5 1773.8 1359.5 1776.8 1359.5C1779.8 1359.5 1782.5 1368.8 1786.5 1370.6C1790.5 1370.6 1794.5 1370.6 1801.0 1370.6C1807.5 1370.2 1819.5 1369.6 1825.2 1368.2C1830.9 1366.8 1832.1 1365.9 1834.9 1362.1C1837.7 1358.3 1840.3 1356.1 1842.1 1345.2C1843.9 1334.3 1844.9 1319.3 1845.8 1296.8C1846.7 1274.3 1846.7 1249.6 1847.4 1210.0C1848.1 1170.4 1849.1 1101.3 1849.8 1059.0C1850.5 1016.7 1851.1 973.2 1851.6 956.0C1852.1 956.0 1852.2 956.0 1853.0 956.0C1853.8 973.2 1855.0 1016.7 1856.3 1059.0C1857.6 1101.3 1860.0 1174.4 1861.1 1210.0C1862.2 1245.6 1861.8 1254.1 1862.7 1272.6C1863.6 1291.1 1865.0 1307.3 1866.4 1321.0C1867.8 1334.7 1869.2 1348.1 1871.2 1354.9C1873.2 1361.8 1875.4 1360.6 1878.5 1362.1C1881.6 1363.6 1884.0 1363.5 1890.0 1364.0C1896.0 1364.5 1907.3 1364.8 1914.4 1364.8C1921.5 1364.8 1927.0 1364.8 1932.4 1364.0C1937.8 1363.0 1942.7 1359.4 1947.0 1359.1C1951.3 1359.1 1954.3 1361.7 1958.4 1362.4C1962.5 1363.1 1963.9 1363.2 1971.5 1363.2C1979.1 1363.1 1993.2 1362.3 2004.1 1361.6C2015.0 1360.9 2025.9 1359.5 2036.7 1359.1C2047.5 1359.1 2059.7 1359.1 2069.2 1359.1C2078.7 1358.7 2085.5 1357.5 2093.7 1356.7C2101.8 1355.9 2109.9 1355.0 2118.1 1354.2C2126.2 1353.4 2136.1 1352.6 2142.6 1351.8C2149.1 1351.0 2153.2 1351.3 2157.2 1349.3C2161.2 1347.3 2164.3 1343.0 2166.5 1340.0C2168.7 1337.0 2169.3 1336.0 2170.3 1331.4C2171.3 1326.9 2171.5 1324.5 2172.4 1312.7C2173.3 1300.9 2175.0 1285.1 2176.0 1260.7C2177.0 1236.3 2177.5 1205.6 2178.3 1166.2C2179.1 1126.8 2179.8 1059.9 2180.7 1024.5C2181.6 989.1 2182.9 965.8 2183.6 954.0C2184.3 954.0 2184.1 954.0 2185.0 954.0C2185.9 965.8 2187.8 997.0 2189.0 1024.5C2190.2 1052.0 2191.5 1087.5 2192.5 1119.0C2193.5 1150.5 2193.9 1187.9 2194.9 1213.5C2195.9 1239.1 2197.0 1254.8 2198.4 1272.5C2199.8 1290.2 2202.0 1309.7 2203.2 1319.8C2204.3 1329.9 2204.3 1329.6 2205.3 1333.0C2206.3 1336.4 2207.6 1339.2 2209.4 1340.4C2211.2 1340.4 2213.9 1340.4 2215.9 1340.4C2217.9 1339.6 2219.4 1335.5 2221.6 1335.5C2223.8 1335.5 2227.7 1339.6 2228.9 1340.4" fill="none" stroke="#8b0000" stroke-width="3.8" stroke-linejoin="round" stroke-linecap="round"/>
<line x1="970.4" y1="957.0" x2="970.4" y2="1503" stroke="#000" stroke-width="5" stroke-dasharray="15.5 19.72" stroke-linecap="round"/>
<line x1="1023.7" y1="878.6" x2="1023.7" y2="1452" stroke="#000" stroke-width="5" stroke-dasharray="15.5 19.72" stroke-linecap="round"/>
<line x1="1073.3" y1="917.8" x2="1073.3" y2="1492" stroke="#000" stroke-width="5" stroke-dasharray="15.5 19.72" stroke-linecap="round"/>
<line x1="1121.2" y1="1144.8" x2="1122.4" y2="1538" stroke="#000" stroke-width="5" stroke-dasharray="15.5 19.72" stroke-linecap="round"/>
<line x1="1200.5" y1="135.4" x2="1202.4" y2="1581" stroke="#000" stroke-width="5" stroke-dasharray="15.5 19.72" stroke-linecap="round"/>
<line x1="1310.4" y1="1059.5" x2="1310.4" y2="1632" stroke="#000" stroke-width="5" stroke-dasharray="15.5 19.72" stroke-linecap="round"/>
<line x1="1365.1" y1="1074.0" x2="1365.1" y2="1645.6" stroke="#000" stroke-width="5" stroke-dasharray="15.5 19.72" stroke-linecap="round"/>
<line x1="1611.5" y1="1064.5" x2="1613.4" y2="1540" stroke="#000" stroke-width="5" stroke-dasharray="15.5 19.72" stroke-linecap="round"/>
<line x1="1643.3" y1="1018.4" x2="1643.5" y2="1590" stroke="#000" stroke-width="5" stroke-dasharray="15.5 19.72" stroke-linecap="round"/>
<line x1="390.45" y1="171.0" x2="390.45" y2="1674.45" stroke="#000" stroke-width="7.0" stroke-linecap="butt"/>
<line x1="362.5" y1="1674.45" x2="800" y2="1674.45" stroke="#000" stroke-width="7.0" stroke-linecap="round"/>
<line x1="790" y1="1674.45" x2="2232.0" y2="1674.45" stroke="#000" stroke-width="7.0" stroke-linecap="butt"/>
<line x1="363.4" y1="1674.45" x2="390.45" y2="1674.45" stroke="#000" stroke-width="7.0" stroke-linecap="round"/>
<line x1="376.0" y1="1507.74" x2="390.45" y2="1507.74" stroke="#000" stroke-width="5.9" stroke-linecap="round"/>
<line x1="363.4" y1="1341.02" x2="390.45" y2="1341.02" stroke="#000" stroke-width="7.0" stroke-linecap="round"/>
<line x1="376.0" y1="1174.31" x2="390.45" y2="1174.31" stroke="#000" stroke-width="5.9" stroke-linecap="round"/>
<line x1="363.4" y1="1007.59" x2="390.45" y2="1007.59" stroke="#000" stroke-width="7.0" stroke-linecap="round"/>
<line x1="376.0" y1="840.88" x2="390.45" y2="840.88" stroke="#000" stroke-width="5.9" stroke-linecap="round"/>
<line x1="363.4" y1="674.16" x2="390.45" y2="674.16" stroke="#000" stroke-width="7.0" stroke-linecap="round"/>
<line x1="376.0" y1="507.44" x2="390.45" y2="507.44" stroke="#000" stroke-width="5.9" stroke-linecap="round"/>
<line x1="363.4" y1="340.73" x2="390.45" y2="340.73" stroke="#000" stroke-width="7.0" stroke-linecap="round"/>
<line x1="376.0" y1="174.02" x2="390.45" y2="174.02" stroke="#000" stroke-width="5.9" stroke-linecap="round"/>
<line x1="498.14" y1="1674.45" x2="498.14" y2="1688.8" stroke="#000" stroke-width="5.9" stroke-linecap="round"/>
<line x1="714.50" y1="1674.45" x2="714.50" y2="1702.1" stroke="#000" stroke-width="7.0" stroke-linecap="round"/>
<line x1="930.86" y1="1674.45" x2="930.86" y2="1688.8" stroke="#000" stroke-width="5.9" stroke-linecap="round"/>
<line x1="1147.22" y1="1674.45" x2="1147.22" y2="1702.1" stroke="#000" stroke-width="7.0" stroke-linecap="round"/>
<line x1="1363.58" y1="1674.45" x2="1363.58" y2="1688.8" stroke="#000" stroke-width="5.9" stroke-linecap="round"/>
<line x1="1579.94" y1="1674.45" x2="1579.94" y2="1702.1" stroke="#000" stroke-width="7.0" stroke-linecap="round"/>
<line x1="1796.30" y1="1674.45" x2="1796.30" y2="1688.8" stroke="#000" stroke-width="5.9" stroke-linecap="round"/>
<line x1="2012.66" y1="1674.45" x2="2012.66" y2="1702.1" stroke="#000" stroke-width="7.0" stroke-linecap="round"/>
<line x1="2229.02" y1="1674.45" x2="2229.02" y2="1688.8" stroke="#000" stroke-width="5.9" stroke-linecap="round"/>
<rect x="1711.0" y="15.0" width="615.9" height="4.8" fill="#000"/>
<rect x="1711.0" y="419.0" width="615.9" height="3.8" fill="#000"/>
<rect x="1711.0" y="15.0" width="3.8" height="407.8" fill="#000"/>
<rect x="2322.1" y="15.0" width="4.8" height="407.8" fill="#000"/>
<line x1="1748.7" y1="92.9" x2="1902.3" y2="92.9" stroke="#000" stroke-width="3.6" stroke-linecap="round"/>
<line x1="1748.7" y1="177.7" x2="1902.3" y2="177.7" stroke="#f00" stroke-width="3.6" stroke-linecap="round"/>
<line x1="1748.7" y1="262.0" x2="1902.3" y2="262.0" stroke="#00f" stroke-width="3.6" stroke-linecap="round"/>
<line x1="1748.7" y1="346.0" x2="1902.3" y2="346.0" stroke="#8b0000" stroke-width="3.6" stroke-linecap="round"/>
<g style="font-family:'Liberation Sans', Arial, Helvetica, sans-serif" fill="#000">
<text transform="translate(1166.50 106.60) scale(0.9949 1.0303)" text-anchor="start" font-size="70">Cu</text>
<text transform="translate(942.90 812.90) scale(0.9958 1.0261)" text-anchor="start" font-size="70">ZnO</text>
<text transform="translate(854.40 909.40) scale(0.9943 1.0422)" text-anchor="start" font-size="70">ZnO</text>
<text transform="translate(1042.30 883.60) scale(0.9927 1.0342)" text-anchor="start" font-size="70">ZnO</text>
<text transform="translate(1068.00 1105.30) scale(0.9996 1.0303)" text-anchor="start" font-size="70">CuO</text>
<text transform="translate(1215.30 1026.80) scale(0.9957 1.0261)" text-anchor="start" font-size="70">ZnO</text>
<text transform="translate(1304.40 575.60) scale(1.0046 1.0062)" text-anchor="start" font-size="70">Cu</text>
<text transform="translate(1480.65 1024.75) scale(0.9922 1.0321)" text-anchor="start" font-size="70">CuO</text>
<text transform="translate(1616.00 965.05) scale(0.9977 1.0321)" text-anchor="start" font-size="70">ZnO</text>
<text transform="translate(1920.80 116.50) scale(0.9902 1.0261)" text-anchor="start" font-size="70">CuZn-P</text>
<text transform="translate(1920.00 200.70) scale(0.9839 1.0342)" text-anchor="start" font-size="70">CuZn-220H</text>
<text transform="translate(1920.00 284.50) scale(0.9839 1.0342)" text-anchor="start" font-size="70">CuZn-350H</text>
<text transform="translate(1920.00 369.30) scale(0.9839 1.0342)" text-anchor="start" font-size="70">CuZn-500H</text>
<text transform="translate(1310.20 1874.20) scale(0.9893 1.0309)" text-anchor="middle" font-size="70">2 Theta, Degrees</text>
<text transform="translate(62.00 948.00) rotate(-90) scale(0.9757 0.9750)" text-anchor="middle" font-size="70">a.u.</text>
<text transform="translate(343.60 1688.40) scale(0.9628 0.9719)" text-anchor="end" font-size="55">0</text>
<text transform="translate(343.40 1355.17) scale(0.9991 0.9712)" text-anchor="end" font-size="55">100000</text>
<text transform="translate(343.50 1021.85) scale(1.0093 0.9712)" text-anchor="end" font-size="55">200000</text>
<text transform="translate(343.50 688.52) scale(1.0093 0.9719)" text-anchor="end" font-size="55">300000</text>
<text transform="translate(343.00 355.20) scale(1.0038 0.9719)" text-anchor="end" font-size="55">400000</text>
<text transform="translate(713.44 1763.60) scale(1.0271 0.9669)" text-anchor="middle" font-size="55">20</text>
<text transform="translate(1146.81 1763.85) scale(1.0127 0.9644)" text-anchor="middle" font-size="55">40</text>
<text transform="translate(1579.66 1763.85) scale(1.0127 0.9644)" text-anchor="middle" font-size="55">60</text>
<text transform="translate(2013.43 1764.10) scale(0.9984 0.9618)" text-anchor="middle" font-size="55">80</text>
</g>
</svg>
</body></html>
